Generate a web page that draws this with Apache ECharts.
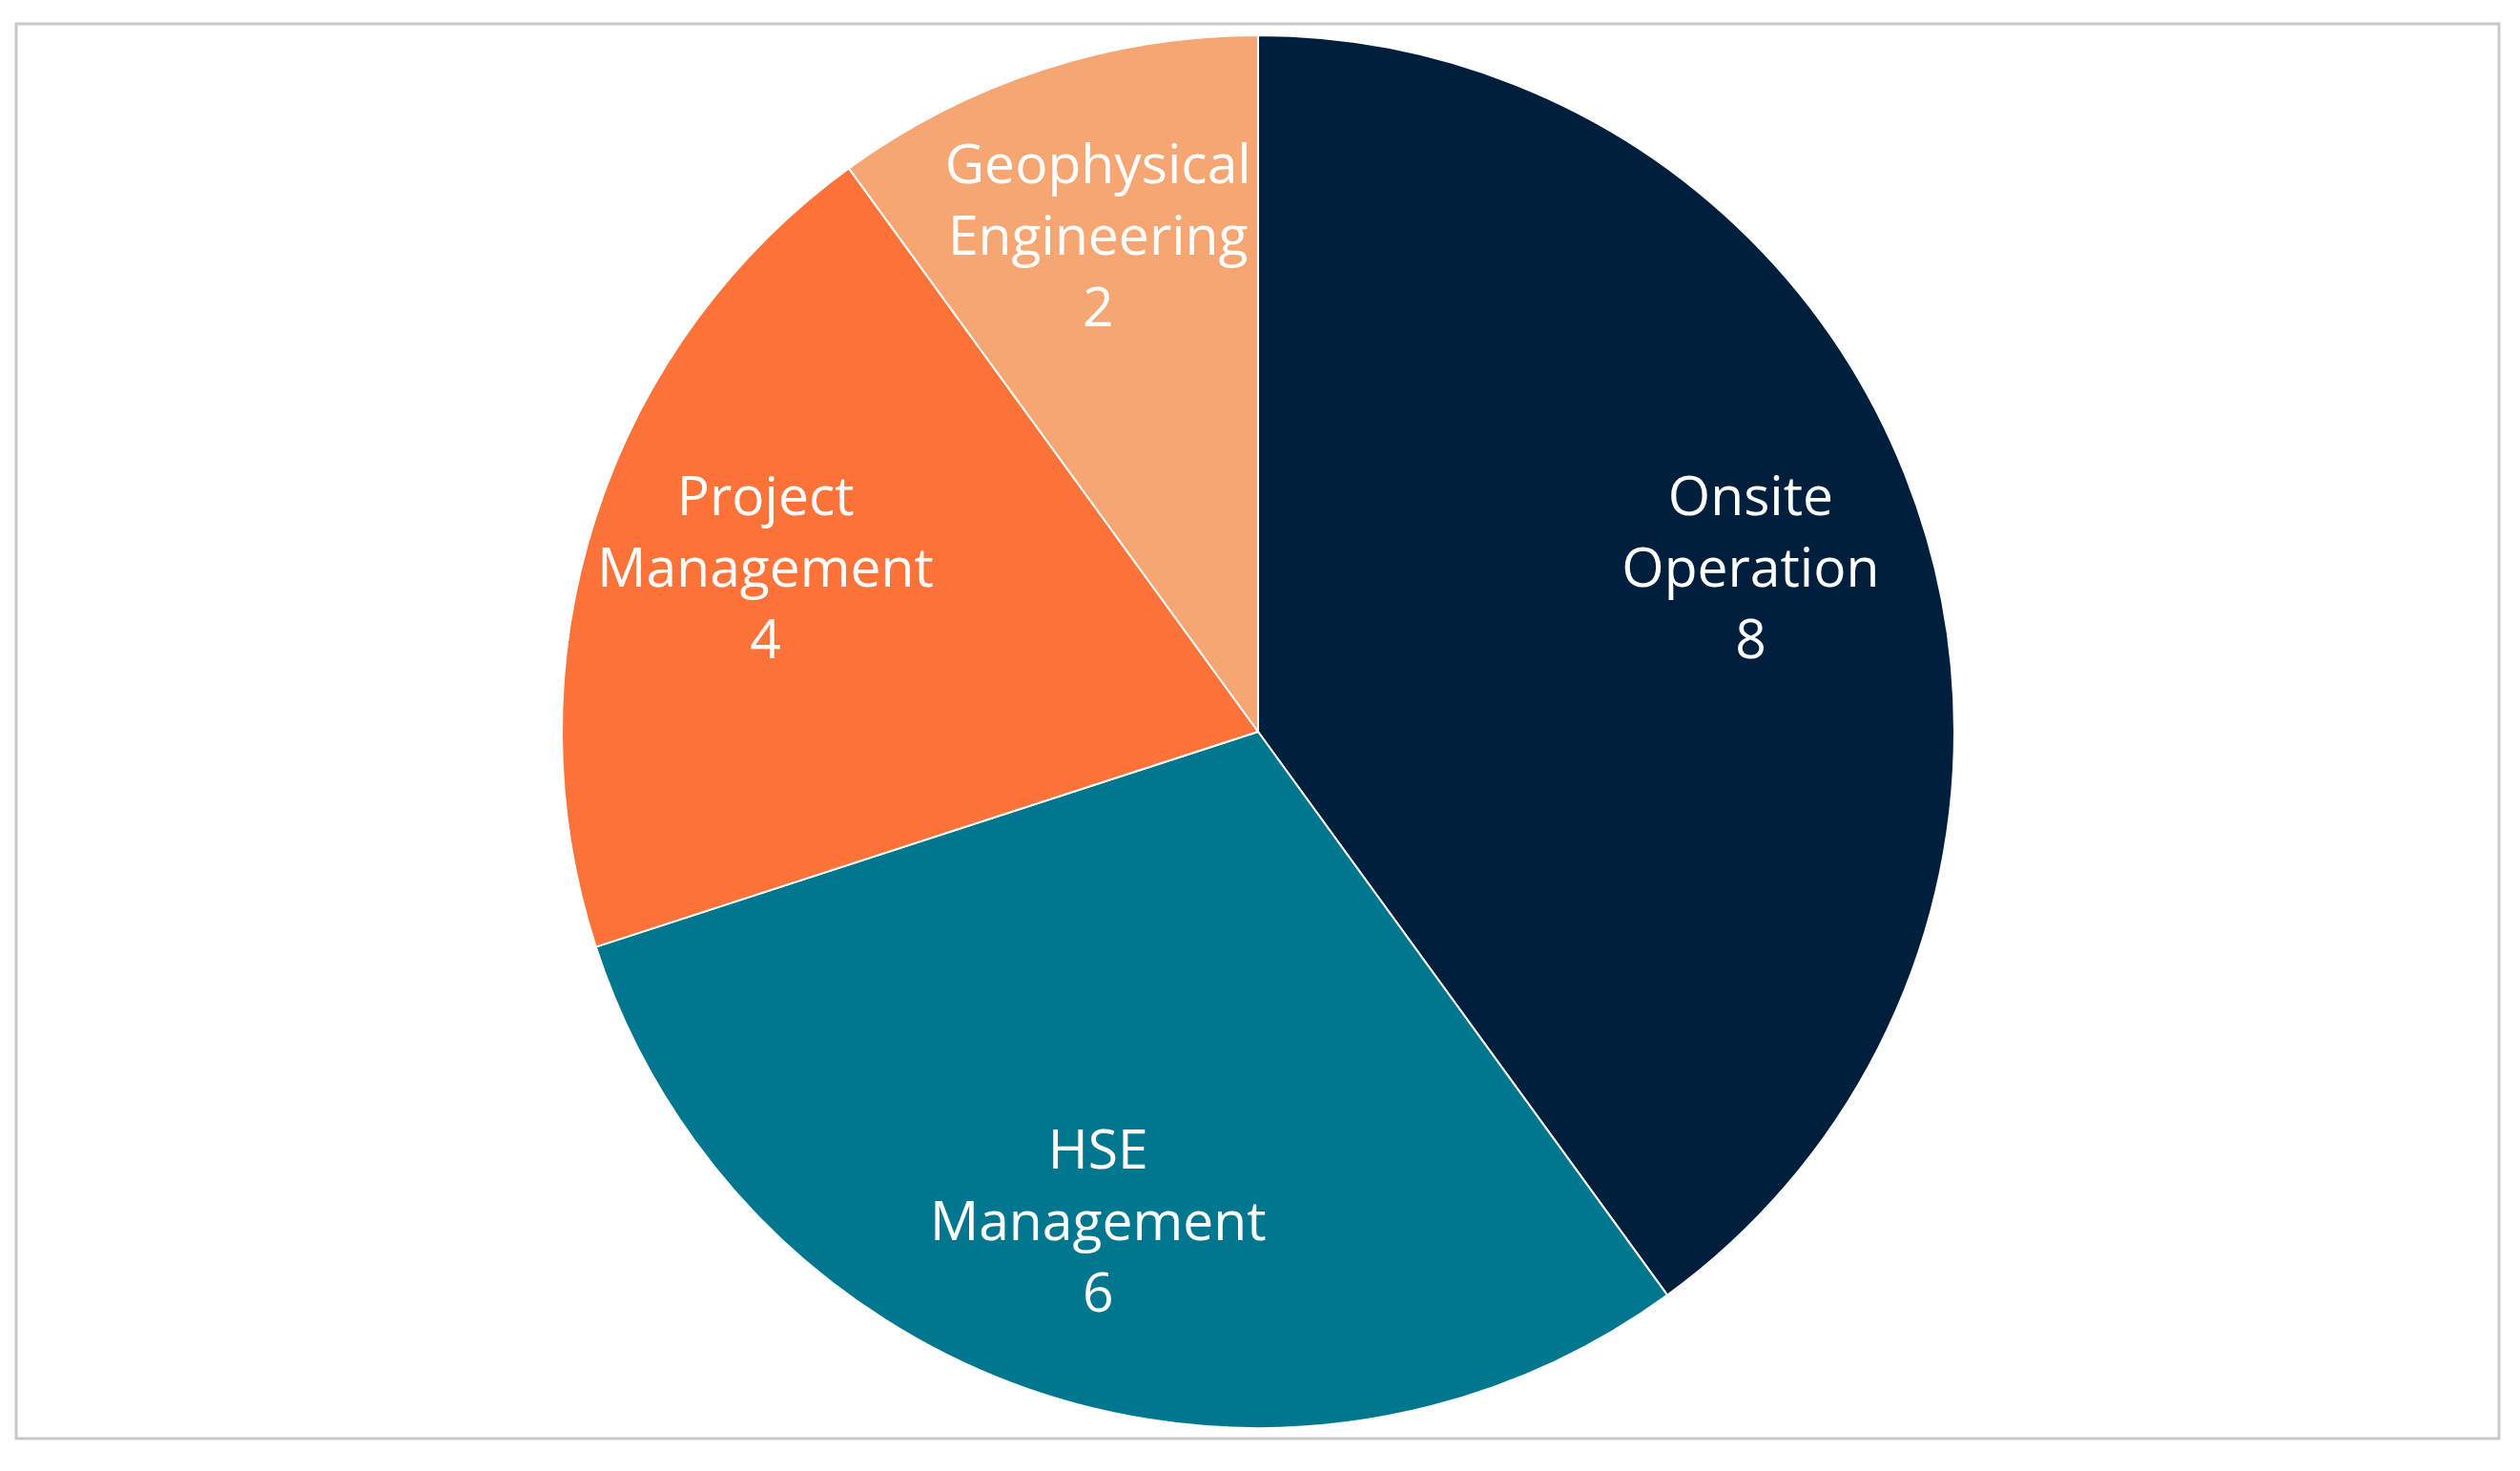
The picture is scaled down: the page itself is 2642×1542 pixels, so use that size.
<!DOCTYPE html>
<html>
<head>
<meta charset="utf-8">
<script src="https://cdn.jsdelivr.net/npm/echarts@6/dist/echarts.min.js"></script>
<style>
  html, body { margin: 0; padding: 0; background: #fff; }
  #chart { width: 2642px; height: 1542px; }
</style>
</head>
<body>
<div id="chart"></div>
<script>
var categories = ['Onsite\nOperation', 'HSE\nManagement', 'Project\nManagement', 'Geophysical\nEngineering'];
var values = [8, 6, 4, 2];
var colors = ['#001F3D', '#00778F', '#FC733A', '#F5A673'];

var data = categories.map(function (name, i) {
  return { name: name, value: values[i], itemStyle: { color: colors[i] } };
});

var myChart = echarts.init(document.getElementById('chart'));
var option = {
  animation: false,
  graphic: [{
    type: 'rect',
    shape: { x: 17, y: 25, width: 2603, height: 1483 },
    style: { fill: 'none', stroke: '#c8c8c8', lineWidth: 3 }
  }],
  series: [{
    type: 'pie',
    center: [1319, 767],
    radius: [0, 730],
    startAngle: 90,
    clockwise: true,
    silent: true,
    label: { show: false },
    labelLine: { show: false },
    itemStyle: { borderColor: '#fff', borderWidth: 2 },
    data: data
  }, {
    // transparent copy, only to push the labels outward
    type: 'pie',
    center: [1319, 767],
    radius: [0, 1080],
    startAngle: 90,
    clockwise: true,
    silent: true,
    itemStyle: { color: 'transparent' },
    label: {
      show: true,
      position: 'inside',
      color: '#fff',
      fontFamily: 'Open Sans',
      fontSize: 57,
      lineHeight: 75,
      formatter: '{b}\n{c}'
    },
    labelLine: { show: false },
    data: data.map(function (d) { return { name: d.name, value: d.value }; })
  }]
};
myChart.setOption(option);
</script>
</body>
</html>
